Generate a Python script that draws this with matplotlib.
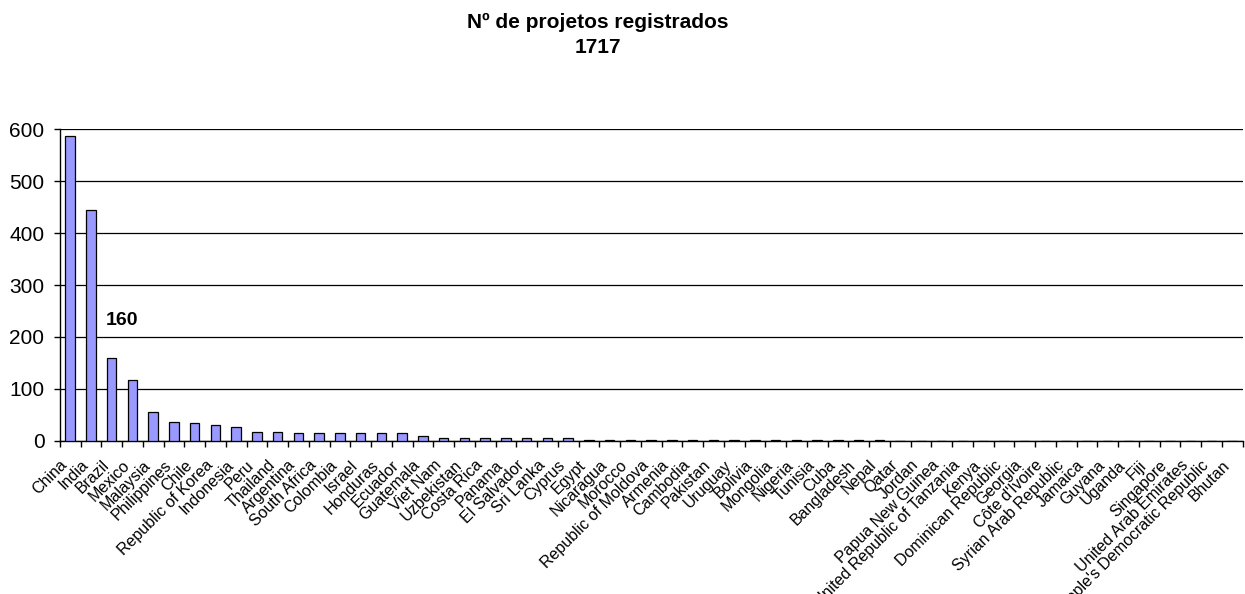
import matplotlib.pyplot as plt
import numpy as np

plt.rcParams['font.family'] = ['Liberation Sans', 'DejaVu Sans']

countries = [
    "China", "India", "Brazil", "Mexico", "Malaysia", "Philippines", "Chile",
    "Republic of Korea", "Indonesia", "Peru", "Thailand", "Argentina",
    "South Africa", "Colombia", "Israel", "Honduras", "Ecuador", "Guatemala",
    "Viet Nam", "Uzbekistan", "Costa Rica", "Panama", "El Salvador",
    "Sri Lanka", "Cyprus", "Egypt", "Nicaragua", "Morocco",
    "Republic of Moldova", "Armenia", "Cambodia", "Pakistan", "Uruguay",
    "Bolivia", "Mongolia", "Nigeria", "Tunisia", "Cuba", "Bangladesh",
    "Nepal", "Qatar", "Jordan", "Papua New Guinea",
    "United Republic of Tanzania", "Kenya", "Dominican Republic", "Georgia",
    "Côte d'Ivoire", "Syrian Arab Republic", "Jamaica", "Guyana", "Uganda",
    "Fiji", "Singapore", "United Arab Emirates",
    "Lao People's Democratic Republic", "Bhutan",
]
projects = [
    588, 444, 160, 117, 55, 37, 34, 30, 26, 17, 17, 15,
    15, 15, 15, 15, 14, 10,
    6, 6, 6, 6, 6,
    6, 6, 2, 2, 2,
    2, 2, 2, 2, 2,
    2, 2, 2, 2, 2, 2,
    2, 0, 0, 0,
    0, 0, 0, 0,
    0, 0, 0, 0, 0,
    0, 0, 0,
    0, 0,
]
title = "Nº de projetos registrados\n1717"
highlight = 2  # Brazil

fig = plt.figure(figsize=(12.45, 5.94), dpi=100)
ax = fig.add_axes([0.048, 0.258, 0.950, 0.524])

x = np.arange(len(countries))
ax.bar(x, projects, width=0.45, color='#9999FF', edgecolor='black',
       linewidth=0.9, zorder=3)

ax.set_xlim(-0.5, len(countries) - 0.5)
ax.set_ylim(0, 600)
ax.set_yticks(range(0, 601, 100))
ax.yaxis.grid(True, color='black', linewidth=0.9, zorder=0)

# labels sit a little left of the bar centre, like the original
ax.xaxis.remove_overlapping_locs = False
ax.set_xticks(x - 0.5)
ax.set_xticklabels(countries, rotation=45, ha='right', rotation_mode='anchor',
                   fontsize=11.5)
ax.set_xticks(np.arange(-0.5, len(countries), 1), minor=True)
ax.tick_params(axis='x', which='major', length=0, pad=12)
ax.tick_params(axis='x', which='minor', length=4, width=1, direction='out')
ax.tick_params(axis='y', labelsize=15, length=4, width=1, direction='out',
               pad=7)

for s in ['top', 'right']:
    ax.spines[s].set_visible(False)
ax.spines['left'].set_linewidth(1.0)
ax.spines['bottom'].set_linewidth(1.0)

ax.text(highlight + 0.5, projects[highlight] + 71, str(projects[highlight]),
        ha='center', va='center', fontsize=14, fontweight='bold')

fig.text(0.48, 0.978, title, ha='center', va='top', fontsize=15,
         fontweight='bold', linespacing=1.4)

fig.savefig('out.png', dpi=100)
